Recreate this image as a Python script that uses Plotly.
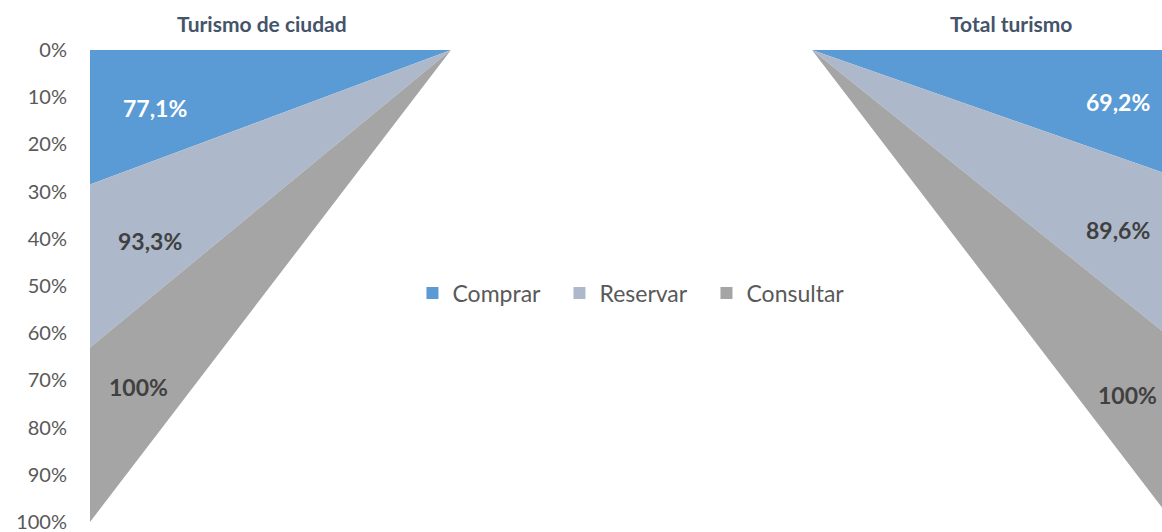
import plotly.graph_objects as go

# Two funnels: city tourism (left) and total tourism (right)
categories = [0, 1, 2, 3]
series_names = ["Comprar", "Reservar", "Consultar"]
comprar = [77.1, 0, 0, 69.2]
reservar = [93.3, 0, 0, 89.6]
consultar = [100.0, 0, 0, 100.0]
panel_titles = ["Turismo de ciudad", "Total turismo"]
y_ticks = [0, 10, 20, 30, 40, 50, 60, 70, 80, 90, 100]

colors = ["#5B9BD5", "#ADB9CA", "#A5A5A5"]
label_colors = ["#FFFFFF", "#404040", "#404040"]
FONT = "Lato"

fig = go.Figure()
for name, vals, col in zip(series_names, [comprar, reservar, consultar], colors):
    fig.add_trace(go.Scatter(
        x=categories, y=vals, name=name, mode="lines",
        stackgroup="funnel", groupnorm="percent",
        line=dict(width=0, color=col), fillcolor=col,
        showlegend=False, hoverinfo="skip",
    ))
    # square legend swatch
    fig.add_trace(go.Scatter(
        x=[None], y=[None], name=name, mode="markers",
        marker=dict(symbol="square", size=15, color=col),
    ))

# value labels inside each band (left at first category, right at last)
left_pos = [(0.18, 12.3), (0.167, 40.5), (0.133, 71.5)]
right_pos = [(2.848, 11.0), (2.848, 38.2), (2.875, 73.0)]
for vals, col, lp, rp in zip([comprar, reservar, consultar], label_colors, left_pos, right_pos):
    for v, (px, py) in [(vals[0], lp), (vals[-1], rp)]:
        txt = ("%g" % v).replace(".", ",") + "%"
        fig.add_annotation(x=px, y=py, xref="x", yref="y", text="<b>%s</b>" % txt,
                           showarrow=False, font=dict(family=FONT, size=23, color=col))

# panel titles
for t, px in zip(panel_titles, [0.476, 2.551]):
    fig.add_annotation(x=px, y=1.0, xref="x", yref="paper", yanchor="bottom", yshift=12,
                       text="<b>%s</b>" % t, showarrow=False,
                       font=dict(family=FONT, size=21, color="#44546A"))

fig.update_layout(
    width=1162, height=532,
    margin=dict(l=90, r=0, t=50, b=10, autoexpand=False),
    paper_bgcolor="white", plot_bgcolor="white",
    font=dict(family=FONT, color="#595959"),
    showlegend=True,
    legend=dict(orientation="h", x=0.5065, xref="paper", xanchor="center",
                y=1 - 293 / 532, yref="container", yanchor="middle",
                traceorder="normal", entrywidth=102,
                font=dict(family=FONT, size=23, color="#595959"),
                bgcolor="rgba(0,0,0,0)", itemsizing="constant"),
    xaxis=dict(range=[0, 1072 / 361], showgrid=False, zeroline=False, showticklabels=False,
               showline=False, fixedrange=True),
    yaxis=dict(range=[100, 0], tickvals=y_ticks, ticktext=["%d%%" % v for v in y_ticks],
               showgrid=False, zeroline=False, showline=False,
               tickfont=dict(family=FONT, size=20, color="#595959"),
               ticklabelstandoff=22, ticklabeloverflow="allow", fixedrange=True),
)

fig.write_html("out.html")
